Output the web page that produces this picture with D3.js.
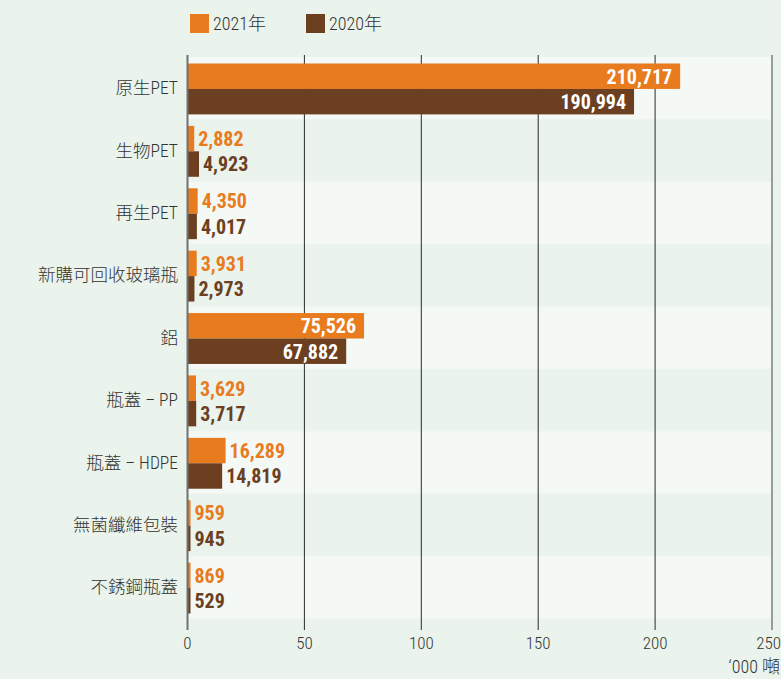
<!DOCTYPE html>
<html><head><meta charset="utf-8">
<script src="https://cdn.jsdelivr.net/npm/d3@7"></script>
<style>
html,body{margin:0;padding:0;background:#eaf3ec;}
svg{display:block;}
.cond{font-family:"Roboto Condensed","Liberation Sans Narrow","DejaVu Sans Condensed","Roboto",sans-serif;font-stretch:condensed;}
.cjk{font-family:"Roboto Condensed","DejaVu Sans Condensed","Noto Sans CJK TC","Noto Sans",sans-serif;font-stretch:condensed;}
</style></head>
<body>
<script>
const categories = ["原生PET","生物PET","再生PET","新購可回收玻璃瓶","鋁","瓶蓋 – PP","瓶蓋 – HDPE","無菌纖維包裝","不銹鋼瓶蓋"];
const values2021 = [210717, 2882, 4350, 3931, 75526, 3629, 16289, 959, 869];
const values2020 = [190994, 4923, 4017, 2973, 67882, 3717, 14819, 945, 529];
const seriesNames = ["2021年","2020年"];
const tickValues = [0, 50, 100, 150, 200, 250];
const unitLabel = "‘000 噸";

const W = 781, H = 679;
const colors = {"2021年":"#e87b1e","2020年":"#6b3f1f"};
const svg = d3.select("body").append("svg").attr("width",W).attr("height",H);
svg.append("rect").attr("width",W).attr("height",H).attr("fill","#eaf3ec");

const x = d3.scaleLinear().domain([0,250]).range([187.5,772]);
const y = d3.scaleBand().domain(categories).range([57,618.5]);
const ySub = d3.scaleBand().domain(seriesNames).range([6.5, y.bandwidth()-5]);

// bands
svg.append("g").selectAll("rect").data(categories).join("rect")
  .attr("x",x(0)).attr("width",x(250)-x(0))
  .attr("y",d=>y(d)).attr("height",y.bandwidth())
  .attr("fill",(d,i)=> i%2===0 ? "#f4f9f5" : "#eaf3ec");

// gridlines
svg.append("g").selectAll("line").data(tickValues.slice(1)).join("line")
  .attr("x1",d=>x(d)).attr("x2",d=>x(d))
  .attr("y1",55).attr("y2",630)
  .attr("stroke",d=>d===250?"#7a7f7b":"#2b2b2b").attr("stroke-width",d=>d===250?1.5:1);

// bars
const rows = categories.map((c,i)=>({cat:c, vals:[{s:"2021年",v:values2021[i]},{s:"2020年",v:values2020[i]}]}));
const g = svg.append("g").selectAll("g").data(rows).join("g")
  .attr("transform",d=>`translate(0,${y(d.cat)})`);
g.selectAll("rect").data(d=>d.vals).join("rect")
  .attr("x",x(0)).attr("y",d=>ySub(d.s))
  .attr("width",d=>Math.max(x(d.v/1000)-x(0),3))
  .attr("height",ySub.bandwidth())
  .attr("fill",d=>colors[d.s]);
g.selectAll("text").data(d=>d.vals).join("text")
  .attr("class","cond")
  .attr("x",d=> d.v>50000 ? x(d.v/1000)-8 : x(0)+Math.max(x(d.v/1000)-x(0),3)+4)
  .attr("y",d=>ySub(d.s)+ySub.bandwidth()/2)
  .attr("dy","0.37em")
  .attr("text-anchor",d=> d.v>50000 ? "end":"start")
  .attr("fill",d=> d.v>50000 ? "#ffffff" : colors[d.s])
  .attr("font-size",20).attr("font-weight",700)
  .text(d=>d3.format(",")(d.v));

// left axis line
svg.append("line").attr("x1",x(0)).attr("x2",x(0)).attr("y1",55).attr("y2",630)
  .attr("stroke","#6f7370").attr("stroke-width",2);

// category labels
svg.append("g").selectAll("text").data(categories).join("text")
  .attr("class","cjk")
  .attr("x",178).attr("y",d=>y(d)+y.bandwidth()/2).attr("dy","0.35em")
  .attr("text-anchor","end").attr("font-size",17.5).attr("font-weight",300).attr("fill","#333")
  .text(d=>d);

// x axis tick labels
svg.append("g").selectAll("text").data(tickValues).join("text")
  .attr("class","cond")
  .attr("x",d=>x(d)).attr("y",643).attr("dy","0.35em")
  .attr("text-anchor",d=>d===250?"end":"middle")
  .attr("dx",d=>d===250?9:0)
  .attr("font-size",17).attr("font-weight",300).attr("fill","#333").text(d=>d);
svg.append("text").attr("class","cjk").attr("x",780).attr("y",667).attr("dy","0.35em")
  .attr("text-anchor","end").attr("font-size",18).attr("font-weight",300).attr("fill","#333").text(unitLabel);

// legend
const lg = svg.append("g").selectAll("g").data(seriesNames).join("g")
  .attr("transform",(d,i)=>`translate(${190+i*116},14)`);
lg.append("rect").attr("width",19).attr("height",19).attr("fill",d=>colors[d]);
lg.append("text").attr("class","cjk").attr("x",23).attr("y",10).attr("dy","0.35em")
  .attr("font-size",18).attr("font-weight",300).attr("fill","#333").text(d=>d);
</script>
</body></html>
